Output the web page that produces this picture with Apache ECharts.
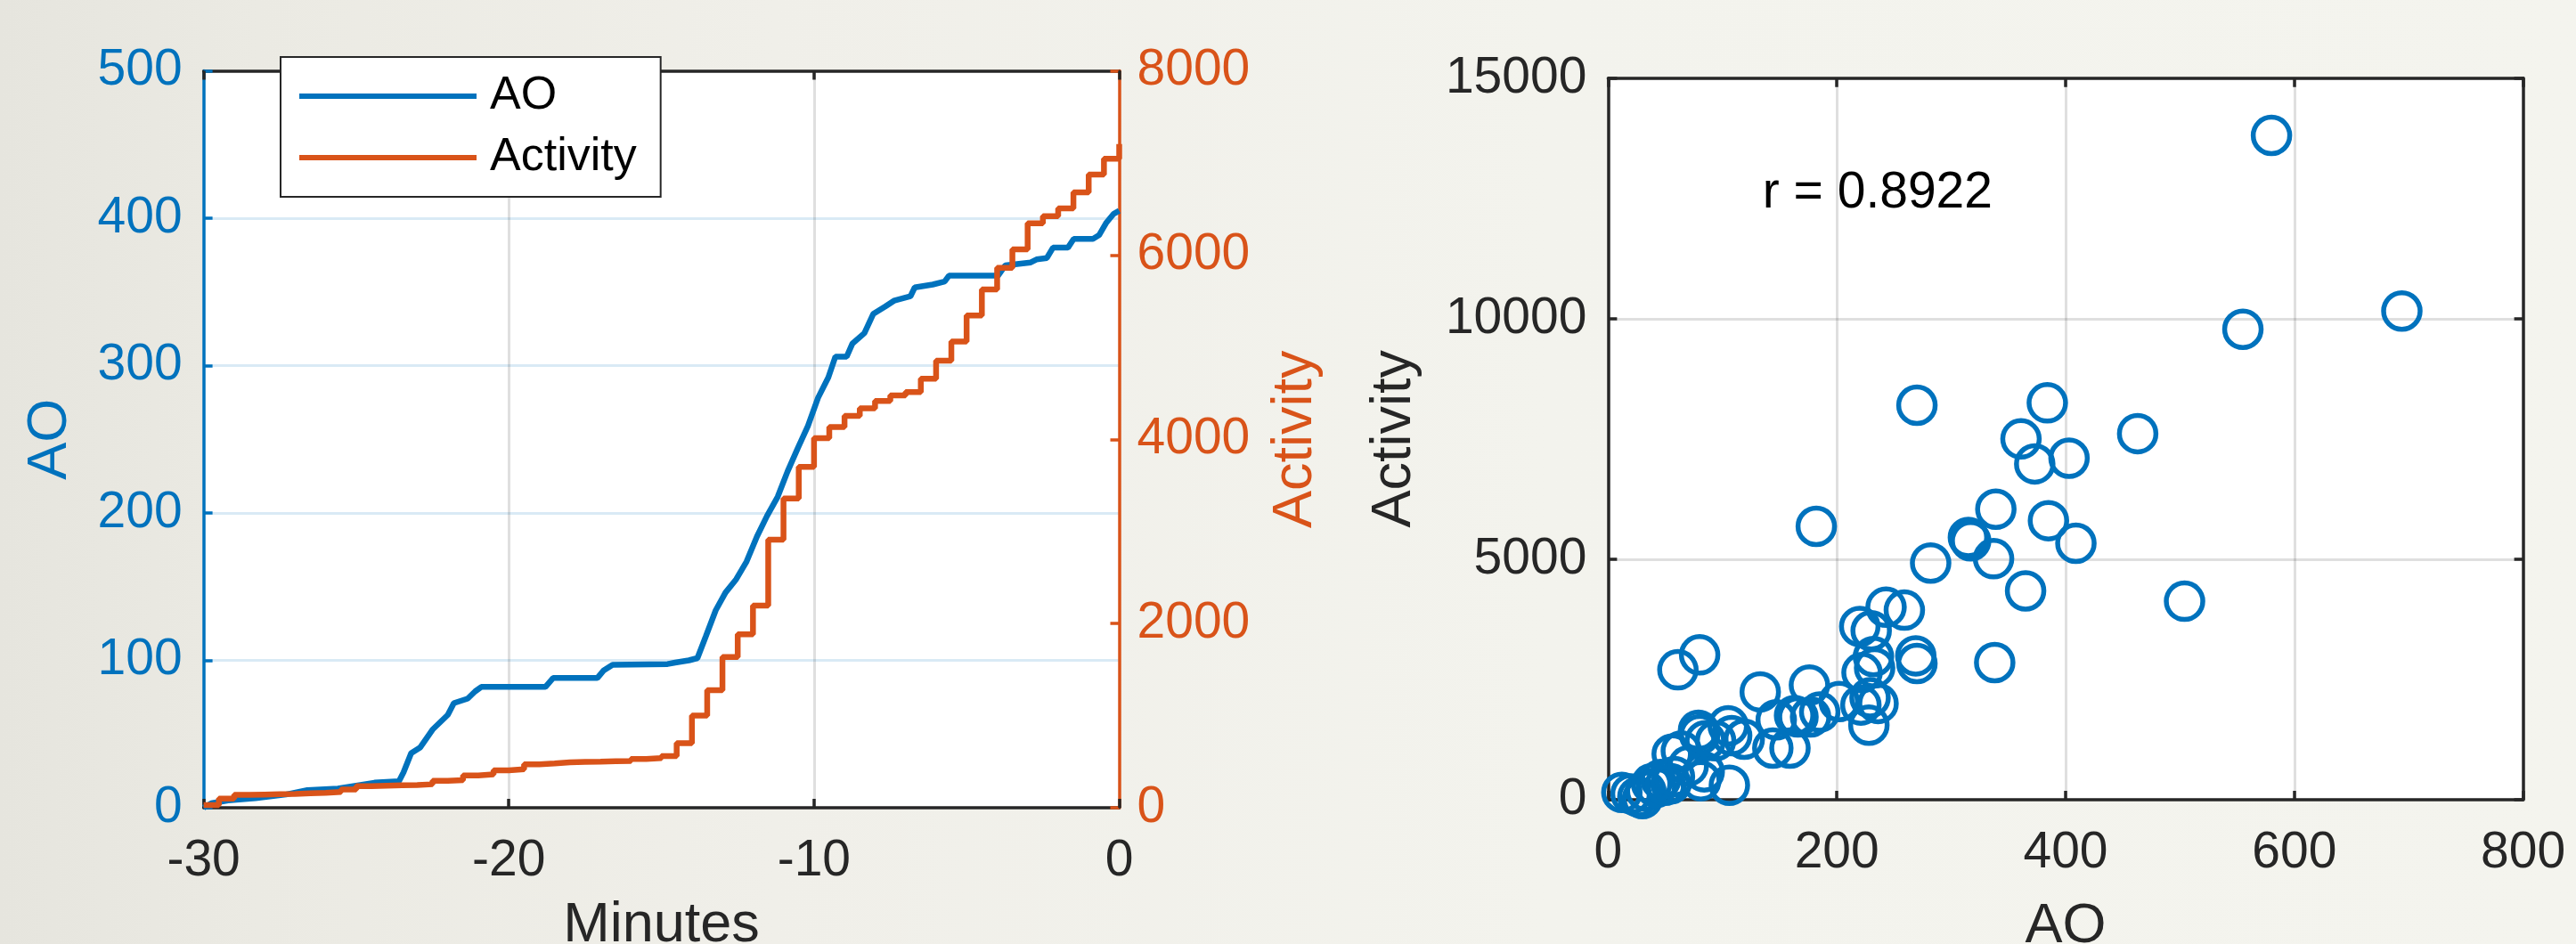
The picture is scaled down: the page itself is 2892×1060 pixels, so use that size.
<!DOCTYPE html>
<html>
<head>
<meta charset="utf-8">
<style>
  html, body { margin: 0; padding: 0; }
  body {
    width: 2892px; height: 1060px; overflow: hidden;
    background: linear-gradient(to right, #E6E5DE 0%, #EBEAE3 10%, #F0EFE9 30%, #F3F3ED 60%, #F4F4EE 100%);
  }
  #chart { width: 2892px; height: 1060px; }
</style>
<script src="https://cdn.jsdelivr.net/npm/echarts@6/dist/echarts.min.js"></script>
</head>
<body>
<div id="chart"></div>
<script>
// Cumulative AO over the last 30 minutes (left axis)
const AO_TIME = [-30, -29.75, -29.2, -28.3, -27.3, -26.6, -25.6, -24.4, -23.6, -23.45,
  -23.2, -22.9, -22.5, -22.25, -22.0, -21.8, -21.35, -21.1, -20.9, -18.8,
  -18.55, -17.1, -16.9, -16.6, -14.8, -14.55, -14.1, -13.82, -13.55, -13.22,
  -12.9, -12.55, -12.21, -11.87, -11.54, -11.19, -10.87, -10.53, -10.2, -9.87,
  -9.53, -9.3, -8.93, -8.74, -8.35, -8.06, -7.67, -7.38, -6.84, -6.7,
  -6.11, -5.72, -5.58, -3.97, -3.73, -2.9, -2.71, -2.37, -2.17, -1.68,
  -1.49, -0.86, -0.66, -0.42, -0.18, 0];
const AO_VALUES = [0, 3, 5, 6.5, 9, 12, 13, 17, 18, 24,
  37, 41, 53, 58, 63, 71, 74, 79, 82, 82,
  88, 88, 93, 97, 97.5, 98.5, 100, 101.5, 116, 134,
  146, 155, 167, 184, 198, 211, 228, 244, 259, 278,
  292, 306, 306, 315, 322, 335, 340, 344, 347, 353,
  355, 357, 361, 361, 368, 370, 372, 373, 380, 380,
  386, 386, 388.5, 397, 403, 405];

// Cumulative activity in half-minute bins (right axis, drawn as stairs)
const ACT_TIME = [-30, -29.5, -29, -28.5, -28, -27.5, -27, -26.5, -26, -25.5,
  -25, -24.5, -24, -23.5, -23, -22.5, -22, -21.5, -21, -20.5,
  -20, -19.5, -19, -18.5, -18, -17.5, -17, -16.5, -16, -15.5,
  -15, -14.5, -14, -13.5, -13, -12.5, -12, -11.5, -11, -10.5,
  -10, -9.5, -9, -8.5, -8, -7.5, -7, -6.5, -6, -5.5,
  -5, -4.5, -4, -3.5, -3, -2.5, -2, -1.5, -1, -0.5, 0];
const ACT_VALUES = [30, 100, 139, 143, 147, 151, 156, 161, 172, 197,
  235, 239, 243, 247, 255, 293, 300, 351, 362, 406,
  418, 471, 480, 493, 497, 500, 504, 508, 529, 540,
  561, 700, 1000, 1275, 1637, 1883, 2194, 2910, 3358, 3700,
  4013, 4132, 4253, 4336, 4416, 4476, 4513, 4657, 4853, 5062,
  5343, 5626, 5861, 6061, 6345, 6422, 6506, 6680, 6873, 7045, 7205];

// AO vs Activity per recording
const SCATTER_AO = [580, 555, 694, 270, 384, 361, 373, 403, 463, 182,
  339, 385, 409, 315, 317, 337, 282, 365, 504, 243,
  259, 220, 338, 269, 270, 232, 233, 222, 61, 80,
  133, 176, 202, 229, 236, 221, 228, 185, 177, 166,
  147, 163, 159, 144, 119, 108, 105, 94, 80, 79,
  85, 64, 84, 106, 81, 56, 12, 20, 26, 30,
  33, 38, 42, 46, 50, 55, 58, 70, 230];
const SCATTER_ACTIVITY = [13810, 9780, 10160, 8200, 8250, 7500, 6980, 7100, 7610, 5683,
  6040, 5800, 5330, 5450, 5380, 5010, 4920, 4340, 4125, 4000,
  3940, 3600, 2850, 2990, 2830, 2975, 2740, 2640, 2700, 3010,
  2240, 2380, 2040, 2120, 2000, 1967, 1550, 1820, 1720, 1720,
  1660, 1750, 1072, 1072, 1257, 1330, 1535, 1226, 1350, 1443,
  1226, 1011, 578, 300, 393, 948, 150, 120, 60, 20,
  180, 330, 250, 420, 300, 330, 480, 700, 3511];

const R_LABEL = 'r = 0.8922';
const R_AT = [135, 12600];

const FONT = '"Liberation Sans", Arial, Helvetica, sans-serif';
const INK = '#262626';
const BLUE = '#0072BD';
const ORANGE = '#D95319';
const GRID_GREY = 'rgba(38,38,38,0.15)';
const GRID_BLUE = 'rgba(0,114,189,0.15)';

function zip(a, b) { return a.map((v, i) => [v, b[i]]); }
function axisLine(color) { return { show: true, onZero: false, lineStyle: { color: color, width: 3.5 } }; }
function inTicks(color) { return { show: true, inside: true, length: 10, lineStyle: { color: color, width: 3.5 } }; }
function labels(color, margin) {
  return { show: true, color: color, fontSize: 57, fontFamily: FONT, margin: margin,
           formatter: function (v) { return String(v); } };
}
function nameStyle(color) { return { color: color, fontSize: 63, fontFamily: FONT }; }
function split(color) { return { show: true, showMinLine: false, showMaxLine: false, lineStyle: { color: color, width: 3 } }; }

const chart = echarts.init(document.getElementById('chart'), null, { renderer: 'canvas' });

const option = {
  animation: false,
  backgroundColor: 'transparent',
  textStyle: { fontFamily: FONT },
  grid: [
    { left: 228.6, top: 79.5, width: 1027.9, height: 827.5, show: true, backgroundColor: '#fff', borderWidth: 0, containLabel: false, outerBoundsMode: 'none' },
    { left: 1805.4, top: 87.8, width: 1027.2, height: 810.1, show: true, backgroundColor: '#fff', borderWidth: 0, containLabel: false, outerBoundsMode: 'none' }
  ],
  legend: {
    data: ['AO', 'Activity'],
    orient: 'vertical',
    left: 315, top: 64,
    padding: [18, 27, 18, 21],
    itemGap: 17,
    itemWidth: 199, itemHeight: 6,
    icon: 'rect',
    selectedMode: false,
    backgroundColor: '#fff',
    borderColor: INK, borderWidth: 2, borderRadius: 0,
    textStyle: { color: '#000', fontSize: 52, fontFamily: FONT, lineHeight: 52, padding: [0, 0, 0, 10] }
  },
  xAxis: [
    {
      gridIndex: 0, type: 'value', position: 'bottom', min: -30, max: 0, interval: 10,
      axisLine: axisLine(INK), axisTick: inTicks(INK), axisLabel: labels(INK, 32),
      splitLine: split(GRID_GREY),
      name: 'Minutes', nameLocation: 'middle', nameGap: 101, nameTextStyle: nameStyle(INK)
    },
    {
      gridIndex: 0, type: 'value', position: 'top', min: -30, max: 0, interval: 10,
      axisLine: axisLine(INK), axisTick: inTicks(INK), axisLabel: { show: false }, splitLine: { show: false }
    },
    {
      gridIndex: 1, type: 'value', position: 'bottom', min: 0, max: 800, interval: 200,
      axisLine: axisLine(INK), axisTick: inTicks(INK), axisLabel: labels(INK, 32),
      splitLine: split(GRID_GREY),
      name: 'AO', nameLocation: 'middle', nameGap: 111, nameTextStyle: nameStyle(INK)
    },
    {
      gridIndex: 1, type: 'value', position: 'top', min: 0, max: 800, interval: 200,
      axisLine: axisLine(INK), axisTick: inTicks(INK), axisLabel: { show: false }, splitLine: { show: false }
    }
  ],
  yAxis: [
    {
      gridIndex: 0, type: 'value', position: 'left', min: 0, max: 500, interval: 100,
      axisLine: axisLine(BLUE), axisTick: inTicks(BLUE), axisLabel: labels(BLUE, 24),
      splitLine: split(GRID_BLUE),
      name: 'AO', nameLocation: 'middle', nameGap: 140, nameTextStyle: nameStyle(BLUE)
    },
    {
      gridIndex: 0, type: 'value', position: 'right', min: 0, max: 8000, interval: 2000,
      axisLine: axisLine(ORANGE), axisTick: inTicks(ORANGE), axisLabel: labels(ORANGE, 20),
      splitLine: { show: false },
      name: 'Activity', nameLocation: 'middle', nameGap: 167, nameTextStyle: nameStyle(ORANGE)
    },
    {
      gridIndex: 1, type: 'value', position: 'left', min: 0, max: 15000, interval: 5000,
      axisLine: axisLine(INK), axisTick: inTicks(INK), axisLabel: labels(INK, 24),
      splitLine: split(GRID_GREY),
      name: 'Activity', nameLocation: 'middle', nameGap: 208, nameTextStyle: nameStyle(INK)
    },
    {
      gridIndex: 1, type: 'value', position: 'right', min: 0, max: 15000, interval: 5000,
      axisLine: axisLine(INK), axisTick: inTicks(INK), axisLabel: { show: false }, splitLine: { show: false }
    }
  ],
  series: [
    {
      name: 'AO', type: 'line', xAxisIndex: 0, yAxisIndex: 0,
      data: zip(AO_TIME, AO_VALUES),
      showSymbol: false, symbol: 'none', color: BLUE,
      lineStyle: { color: BLUE, width: 6.5 },
      emphasis: { disabled: true }, z: 3
    },
    {
      name: 'Activity', type: 'line', xAxisIndex: 0, yAxisIndex: 1,
      data: zip(ACT_TIME, ACT_VALUES), step: 'end',
      showSymbol: false, symbol: 'none', color: ORANGE,
      lineStyle: { color: ORANGE, width: 6.5 },
      emphasis: { disabled: true }, z: 4
    },
    {
      name: 'AO vs Activity', type: 'scatter', xAxisIndex: 2, yAxisIndex: 2,
      data: zip(SCATTER_AO, SCATTER_ACTIVITY),
      symbol: 'circle', symbolSize: 41,
      itemStyle: { color: 'rgba(0,0,0,0)', borderColor: BLUE, borderWidth: 5.5, opacity: 1 },
      emphasis: { disabled: true }, z: 3
    }
  ]
};

chart.setOption(option);

// correlation note placed in data coordinates of the scatter panel
const rPos = chart.convertToPixel({ xAxisIndex: 2, yAxisIndex: 2 }, R_AT);
chart.setOption({
  graphic: [{
    type: 'text', x: rPos[0], y: rPos[1], z: 10,
    style: { text: R_LABEL, fill: '#000', fontSize: 57, fontFamily: FONT, align: 'left', verticalAlign: 'middle' }
  }]
});
</script>
</body>
</html>
